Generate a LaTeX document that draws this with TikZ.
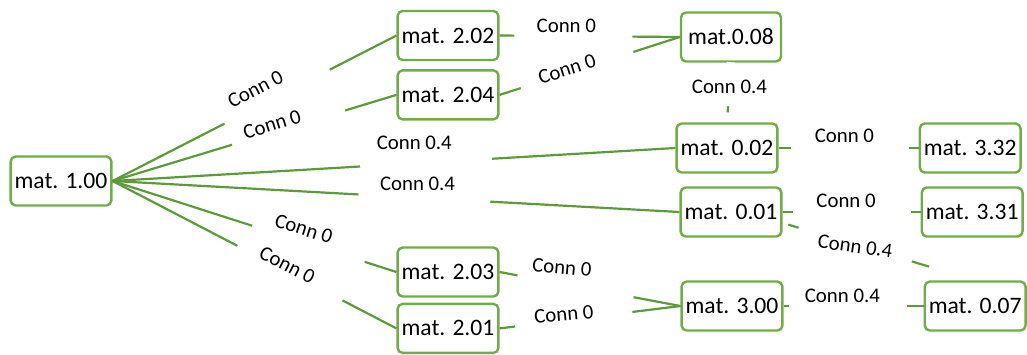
\documentclass[tikz,border=0pt]{standalone}
\usepackage{fontspec}
\setmainfont{Carlito}
\usetikzlibrary{positioning}
\definecolor{matgreen}{HTML}{70AD47}
\definecolor{linkgreen}{HTML}{5E9A3C}

\begin{document}
\begin{tikzpicture}[
  x=0.5pt, y=-0.5pt,
  box/.style={draw=matgreen, line width=1.2pt, rounded corners=2.5pt, minimum width=50pt, minimum height=24.5pt, inner xsep=2pt, fill=white, font=\fontsize{11.8}{14}\selectfont},
  link/.style={draw=linkgreen, line width=1.1pt},
  gap/.style={fill=white, sloped, inner sep=0pt, minimum width=59pt, minimum height=4pt},
  widegap/.style={gap, minimum width=66pt},
  lbl/.style={inner sep=1pt, font=\fontsize{10.4}{12}\selectfont},
  note/.style={lbl, sloped}
]
\useasboundingbox (0,0) rectangle (1027,354);

\node[box] (n100) at (61,181) {mat. 1.00};
\node[box] (n202) at (448,35.5) {mat. 2.02};
\node[box, below=4pt of n202] (n204) {mat. 2.04};
\node[box] (n203) at (448,272) {mat. 2.03};
\node[box, below=2.5pt of n203] (n201) {mat. 2.01};
\node[box] (n008) at (731,37) {mat.0.08};
\node[box] (n002) at (727,148) {mat. 0.02};
\node[box] (n001) at (731,212) {mat. 0.01};
\node[box] (n300) at (732,306) {mat. 3.00};
\node[box, right=70pt of n002] (n332) {mat. 3.32};
\node[box, right=69pt of n001] (n331) {mat. 3.31};
\node[box, right=70pt of n300] (n007) {mat. 0.07};

% from mat. 1.00
\draw[link] (n100.east) -- node[gap, pos=0.58] {} node[note, pos=0.53, above=3.5pt] {Conn 0} (n202.west);
\draw[link] (n100.east) -- node[gap, pos=0.62] {} node[note, pos=0.57, above=-1pt] {Conn 0} (n204.west);
\draw[link] (n100.east) -- node[widegap, pos=0.557] {} node[lbl, pos=0.536, above=5.5pt] {Conn 0.4} (n002.west);
\draw[link] (n100.east) -- node[widegap, pos=0.55] {} node[lbl, pos=0.538, above=2pt] {Conn 0.4} (n001.west);
\draw[link] (n100.east) -- node[gap, pos=0.69] {} node[note, pos=0.66, above=1.5pt] {Conn 0} (n203.west);
\draw[link] (n100.east) -- node[gap, pos=0.625] {} node[note, pos=0.606, above=-2pt] {Conn 0} (n201.west);

% second column
\draw[link] (n202.east) -- node[gap, pos=0.41] {} node[note, pos=0.37, above=0pt] {Conn 0} (n008.west);
\draw[link] (n204.east) -- node[gap, pos=0.43] {} node[note, pos=0.38, above=-3pt] {Conn 0} (n008.west);
\draw[link] (n203.east) -- node[gap, pos=0.42] {} node[lbl, pos=0.34, rotate=-5, above=3pt] {Conn 0} (n300.west);
\draw[link] (n201.east) -- node[gap, pos=0.41] {} node[lbl, pos=0.36, rotate=5, above=-2pt] {Conn 0} (n300.west);

% right part
\draw[link, shorten >=5pt] (n008.south) -- node[gap, pos=0.36, minimum width=22pt] {} node[lbl, pos=0.4] {Conn 0.4} (n002.north);
\draw[link] (n002.east) -- node[gap, pos=0.51] {} node[note, pos=0.47, above=1pt] {Conn 0} (n332.west);
\draw[link] (n001.east) -- node[gap, pos=0.5] {} node[note, pos=0.46, above=0.5pt] {Conn 0} (n331.west);
\draw[link, shorten <=3pt, shorten >=24pt] (n001.-12) -- node[gap, pos=0.377] {} node[lbl, pos=0.37, rotate=-8, above=-6pt] {Conn 0.4} (n007.north);
\draw[link] (n300.east) -- node[gap, pos=0.46] {} node[note, pos=0.42, above=0pt] {Conn 0.4} (n007.west);

\end{tikzpicture}
\end{document}
